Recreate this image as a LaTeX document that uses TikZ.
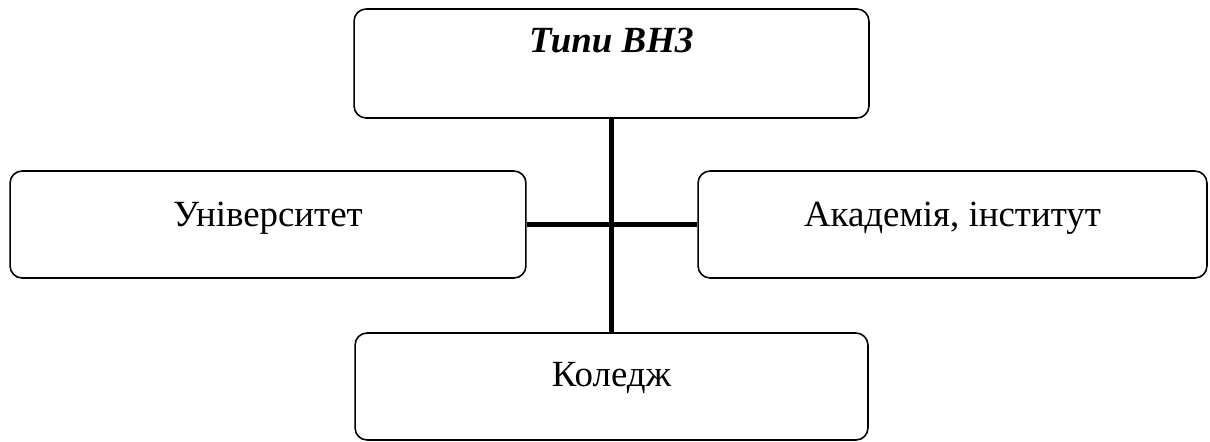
\documentclass[tikz,border=0pt]{standalone}
\usepackage{fontspec}
\setmainfont{Liberation Serif}
\begin{document}
\begin{tikzpicture}[x=0.02cm, y=-0.02cm,
        box/.style={draw, rounded corners=0.24cm, line width=0.9pt,
            inner sep=0pt, anchor=base, font=\fontsize{21}{25}\selectfont},
        link/.style={line width=0.1cm}]
 \useasboundingbox (0,0) rectangle (1210,441);

\node[box, minimum width=10.3cm, text height=0.86cm, text depth=1.32cm] (tipy) at (611.5,52) {\textbf{\textit{Типи ВНЗ}}};
 \node[box, minimum width=10.32cm, text height=1.1cm, text depth=1.04cm] (univ) at (268,226) {Університет};
 \node[box, minimum width=10.18cm, text height=1.1cm, text depth=1.04cm] (akad) at (952.5,226) {Академія, інститут};
 \node[box, minimum width=10.26cm, text height=1.06cm, text depth=1.08cm] (koledzh) at (611.5,386) {Коледж};

\draw[link] (tipy.south) -- (koledzh.north);
 \draw[link] (univ.east) -- (akad.west);

\end{tikzpicture}
\end{document}
